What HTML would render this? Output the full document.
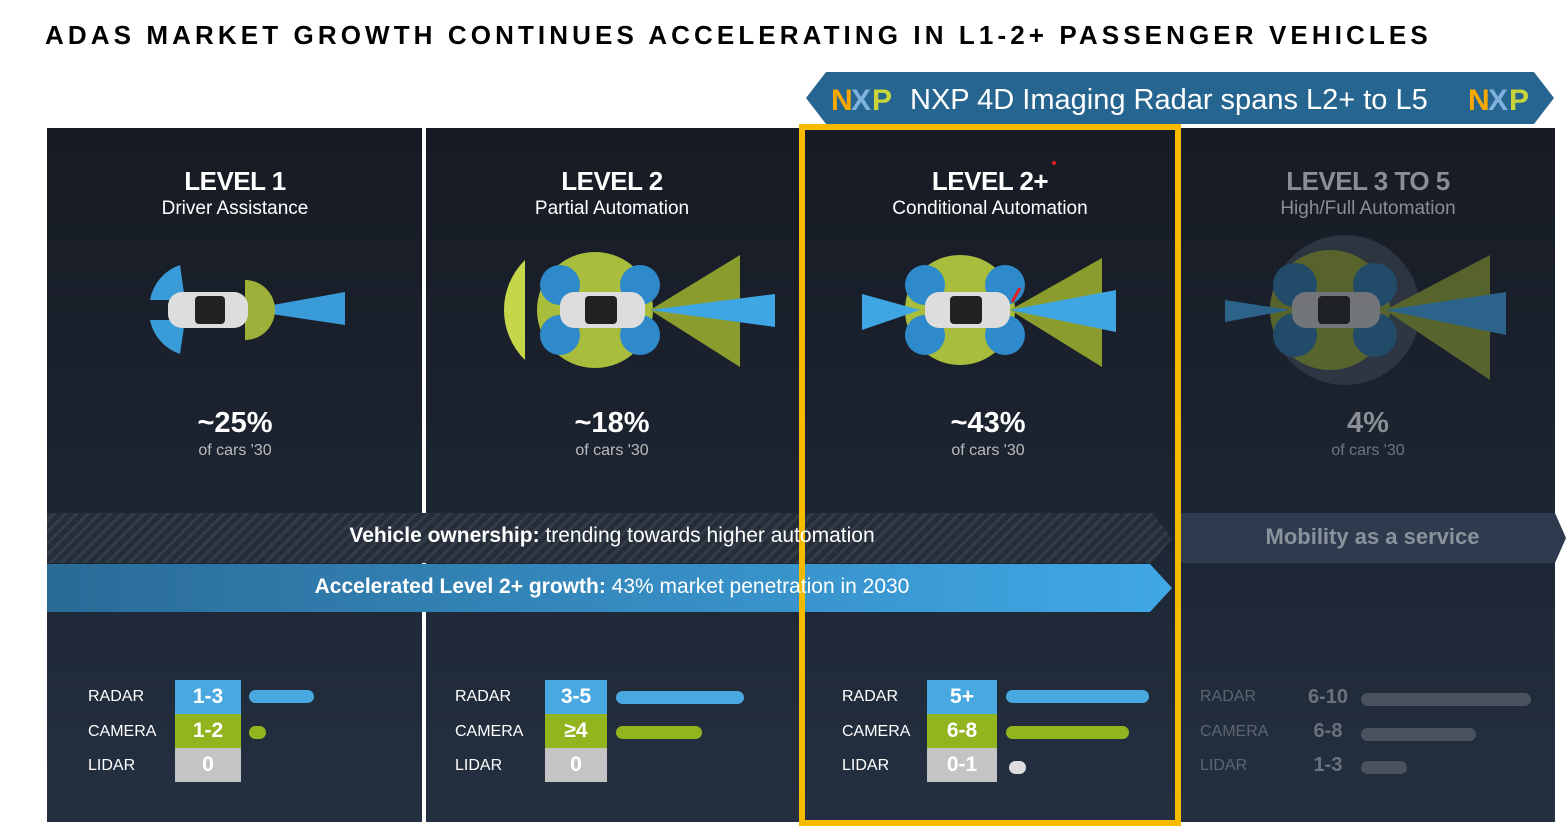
<!DOCTYPE html>
<html><head><meta charset="utf-8"><style>
body{margin:0;width:1566px;height:831px;background:#fff;position:relative;overflow:hidden;font-family:"Liberation Sans",sans-serif}
.a{position:absolute}
.t{color:#fff;text-align:center;width:376px}
.h{font-weight:bold;font-size:26px;letter-spacing:-0.5px;line-height:30px}
.s{font-size:19px;line-height:26px}
.p{font-weight:bold;font-size:29px;line-height:34px}
.c{font-size:16px;color:#bbb;line-height:22px}
.lab{font-size:16px;color:#fff}
.box{width:66px;height:34px;color:#fff;font-weight:bold;font-size:21px;text-align:center;line-height:34px}
.bar{height:13px;border-radius:7px}
</style></head><body>
<div class="a" style="left:45px;top:20px;font-weight:bold;font-size:26px;letter-spacing:4.1px;color:#000;white-space:nowrap">ADAS MARKET GROWTH CONTINUES ACCELERATING IN L1-2+ PASSENGER VEHICLES</div>
<svg class="a" style="left:806px;top:72px" width="750" height="52"><polygon points="20,0 728,0 748,26 728,52 20,52 0,26" fill="#26658f"/>
<text x="25" y="38" font-family="Liberation Sans" font-weight="bold" font-size="30" fill="#f7a800">N</text><text x="45" y="38" font-family="Liberation Sans" font-weight="bold" font-size="30" fill="#7fb2dd">X</text><text x="66" y="38" font-family="Liberation Sans" font-weight="bold" font-size="30" fill="#c9d43a">P</text>
<text x="104" y="37" font-family="Liberation Sans" font-size="29" fill="#fff">NXP 4D Imaging Radar spans L2+ to L5</text>
<text x="662" y="38" font-family="Liberation Sans" font-weight="bold" font-size="30" fill="#f7a800">N</text><text x="682" y="38" font-family="Liberation Sans" font-weight="bold" font-size="30" fill="#7fb2dd">X</text><text x="703" y="38" font-family="Liberation Sans" font-weight="bold" font-size="30" fill="#c9d43a">P</text></svg>
<div class="a" style="left:47px;top:128px;width:1508px;height:694px;background:linear-gradient(#171b23,#1c2431 50%,#243041)"></div>
<div class="a" style="left:422px;top:128px;width:4px;height:694px;background:#fff"></div>
<svg class="a" style="left:0;top:0" width="1566" height="831">
<defs><pattern id="hp" width="8" height="8" patternUnits="userSpaceOnUse" patternTransform="rotate(45)"><rect width="8" height="8" fill="#252d39"/><rect width="3" height="8" fill="#333c49"/></pattern>
<linearGradient id="bg" x1="0" x2="1"><stop offset="0" stop-color="#2a6b97"/><stop offset="1" stop-color="#40a8e6"/></linearGradient></defs>
<polygon points="47,513 1152,513 1172,538 1152,563 47,563" fill="url(#hp)"/>
<polygon points="1180,513 1555,513 1566,538 1555,563 1180,563" fill="#2e3b4f"/>
<polygon points="47,564 1150,564 1172,588 1150,612 47,612" fill="url(#bg)"/>
<g>
<path d="M245,310 L345,292 L345,325 Z" fill="#3a9bd9"/>
<path d="M180,265 A45,45 0 0 0 150,300 L185,300 Z" fill="#3a9bd9"/><path d="M180,354 A45,45 0 0 1 150,320 L185,320 Z" fill="#3a9bd9"/>
<path d="M245,280 A30,30 0 0 1 245,340 Z" fill="#9fb03a"/>
<rect x="168" y="292" width="80" height="36" rx="14" fill="#ddd"/><rect x="195" y="296" width="30" height="28" rx="4" fill="#222"/>
</g>
<g>
<circle cx="595" cy="310" r="58" fill="#a9bd3c"/><path d="M525,260 A70,70 0 0 0 525,360 Z" fill="#c6d64a"/>
<circle cx="560" cy="285" r="20" fill="#2f8acb"/><circle cx="560" cy="335" r="20" fill="#2f8acb"/><circle cx="640" cy="285" r="20" fill="#2f8acb"/><circle cx="640" cy="335" r="20" fill="#2f8acb"/>
<path d="M650,310 L740,255 L740,367 Z" fill="#8a9c2e"/><path d="M650,310 L775,294 L775,327 Z" fill="#3fa6e4"/>
<rect x="560" y="292" width="85" height="36" rx="14" fill="#ddd"/><rect x="585" y="296" width="32" height="28" rx="4" fill="#222"/>
</g>
<g>
<circle cx="960" cy="310" r="55" fill="#a9bd3c"/>
<circle cx="925" cy="285" r="20" fill="#2f8acb"/><circle cx="925" cy="335" r="20" fill="#2f8acb"/><circle cx="1005" cy="285" r="20" fill="#2f8acb"/><circle cx="1005" cy="335" r="20" fill="#2f8acb"/>
<path d="M862,294 L920,310 L862,330 Z" fill="#3fa6e4"/>
<path d="M1010,310 L1102,258 L1102,367 Z" fill="#8a9c2e"/><path d="M1010,310 L1116,290 L1116,332 Z" fill="#3fa6e4"/>
<rect x="925" y="292" width="85" height="36" rx="14" fill="#ddd"/><rect x="950" y="296" width="32" height="28" rx="4" fill="#222"/>
<line x1="1012" y1="302" x2="1020" y2="288" stroke="#e02020" stroke-width="3"/><circle cx="1054" cy="163" r="2" fill="#e02020"/>
</g>
<g opacity="0.55">
<circle cx="1345" cy="310" r="75" fill="#3f4856"/><circle cx="1330" cy="310" r="60" fill="#8a9c2e"/>
<circle cx="1295" cy="285" r="22" fill="#2a6f9e"/><circle cx="1295" cy="335" r="22" fill="#2a6f9e"/><circle cx="1375" cy="285" r="22" fill="#2a6f9e"/><circle cx="1375" cy="335" r="22" fill="#2a6f9e"/>
<path d="M1385,310 L1490,255 L1490,380 Z" fill="#8a9c2e"/><path d="M1385,310 L1506,292 L1506,335 Z" fill="#3a9bd9"/>
<path d="M1225,300 L1290,310 L1225,322 Z" fill="#3a9bd9"/>
<rect x="1292" y="292" width="88" height="36" rx="14" fill="#bbb"/><rect x="1318" y="296" width="32" height="28" rx="4" fill="#222"/>
</g>
</svg>
<div class="a" style="left:799px;top:124px;width:370px;height:690px;border:6px solid #f6bb00"></div>

<div class="a t" style="left:47px;top:166px"><div class="h">LEVEL 1</div><div class="s">Driver Assistance</div></div>
<div class="a t" style="left:424px;top:166px"><div class="h">LEVEL 2</div><div class="s">Partial Automation</div></div>
<div class="a t" style="left:802px;top:166px"><div class="h">LEVEL 2+</div><div class="s">Conditional Automation</div></div>
<div class="a t" style="left:1180px;top:166px;color:#8a8f96"><div class="h">LEVEL 3 TO 5</div><div class="s">High/Full Automation</div></div>

<div class="a t" style="left:47px;top:406px"><div class="p">~25%</div><div class="c">of cars '30</div></div>
<div class="a t" style="left:424px;top:406px"><div class="p">~18%</div><div class="c">of cars '30</div></div>
<div class="a t" style="left:800px;top:406px"><div class="p">~43%</div><div class="c">of cars '30</div></div>
<div class="a t" style="left:1180px;top:406px;color:#8a8f96"><div class="p">4%</div><div class="c" style="color:#70757c">of cars '30</div></div>

<div class="a" style="left:47px;top:524px;width:1130px;text-align:center;color:#fff;font-size:21px"><b>Vehicle ownership:</b> trending towards higher automation</div>
<div class="a" style="left:1180px;top:524px;width:385px;text-align:center;color:#8a929c;font-size:22px;font-weight:bold">Mobility as a service</div>
<div class="a" style="left:47px;top:575px;width:1130px;text-align:center;color:#fff;font-size:21px"><b>Accelerated Level 2+ growth:</b> 43% market penetration in 2030</div>

<div class="a lab" style="left:88px;top:688px">RADAR</div><div class="a lab" style="left:88px;top:723px">CAMERA</div><div class="a lab" style="left:88px;top:757px">LIDAR</div>
<div class="a box" style="left:175px;top:680px;background:#4aa8e0">1-3</div><div class="a box" style="left:175px;top:714px;background:#92b41f">1-2</div><div class="a box" style="left:175px;top:748px;background:#c4c4c4">0</div>
<div class="a bar" style="left:249px;top:690px;width:65px;background:#4aa8e0"></div><div class="a bar" style="left:249px;top:726px;width:17px;background:#92b41f"></div>
<div class="a lab" style="left:455px;top:688px">RADAR</div><div class="a lab" style="left:455px;top:723px">CAMERA</div><div class="a lab" style="left:455px;top:757px">LIDAR</div>
<div class="a box" style="left:545px;top:680px;width:62px;background:#4aa8e0">3-5</div><div class="a box" style="left:545px;top:714px;width:62px;background:#92b41f">≥4</div><div class="a box" style="left:545px;top:748px;width:62px;background:#c4c4c4">0</div>
<div class="a bar" style="left:616px;top:691px;width:128px;background:#4aa8e0"></div><div class="a bar" style="left:616px;top:726px;width:86px;background:#92b41f"></div>
<div class="a lab" style="left:842px;top:688px">RADAR</div><div class="a lab" style="left:842px;top:723px">CAMERA</div><div class="a lab" style="left:842px;top:757px">LIDAR</div>
<div class="a box" style="left:927px;top:680px;width:70px;background:#4aa8e0">5+</div><div class="a box" style="left:927px;top:714px;width:70px;background:#92b41f">6-8</div><div class="a box" style="left:927px;top:748px;width:70px;background:#c4c4c4">0-1</div>
<div class="a bar" style="left:1006px;top:690px;width:143px;background:#4aa8e0"></div><div class="a bar" style="left:1006px;top:726px;width:123px;background:#92b41f"></div><div class="a bar" style="left:1009px;top:761px;width:17px;background:#ddd"></div>
<div class="a lab" style="left:1200px;top:688px;color:#5d6570">RADAR</div><div class="a lab" style="left:1200px;top:723px;color:#5d6570">CAMERA</div><div class="a lab" style="left:1200px;top:757px;color:#5d6570">LIDAR</div>
<div class="a box" style="left:1295px;top:680px;color:#6a717b;font-size:20px">6-10</div><div class="a box" style="left:1295px;top:714px;color:#6a717b;font-size:20px">6-8</div><div class="a box" style="left:1295px;top:748px;color:#6a717b;font-size:20px">1-3</div>
<div class="a bar" style="left:1361px;top:693px;width:170px;background:#4a525e"></div><div class="a bar" style="left:1361px;top:728px;width:115px;background:#4a525e"></div><div class="a bar" style="left:1361px;top:761px;width:46px;background:#4a525e"></div>
</body></html>
